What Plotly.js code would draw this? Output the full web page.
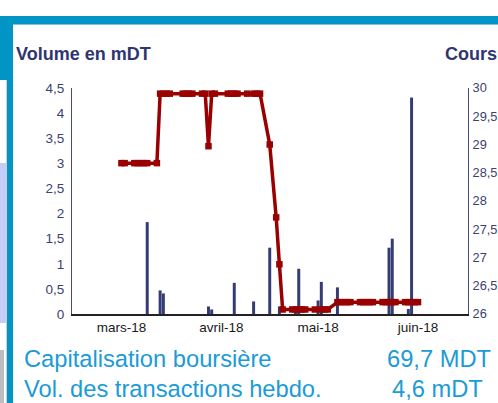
<!DOCTYPE html>
<html>
<head>
<meta charset="utf-8">
<script src="https://cdn.plot.ly/plotly-3.0.1.min.js"></script>
<style>
  html, body { margin:0; padding:0; background:#fff; }
  body { width:498px; height:403px; overflow:hidden; position:relative; }
  .deco { position:absolute; }
  #chart { position:absolute; left:0; top:0; width:498px; height:403px; }
</style>
</head>
<body>
<div class="deco" style="left:0;top:16px;width:498px;height:8px;background:#0095c5"></div>
<div class="deco" style="left:13px;top:24px;width:485px;height:1px;background:#7cc6e4"></div>
<div class="deco" style="left:0;top:16px;width:7px;height:64px;background:#0095c5"></div>
<div class="deco" style="left:6px;top:80px;width:1px;height:323px;background:#cfcfcf"></div>
<div class="deco" style="left:0;top:163px;width:6px;height:160px;background:#c6cdf8"></div>
<div class="deco" style="left:0;top:350px;width:4px;height:53px;background:#bdbdbd"></div>
<div class="deco" style="left:7px;top:16px;width:6px;height:387px;background:#0095c5"></div>
<div id="chart"></div>
<script>
// ---- Data ----
const priceDates = [
  '2018-03-01','2018-03-02','2018-03-05','2018-03-06','2018-03-07','2018-03-08','2018-03-09','2018-03-12',
  '2018-03-13','2018-03-14','2018-03-15','2018-03-16','2018-03-20','2018-03-21','2018-03-22','2018-03-23',
  '2018-03-26','2018-03-27','2018-03-28','2018-03-29','2018-03-30',
  '2018-04-03','2018-04-04','2018-04-05','2018-04-06','2018-04-09','2018-04-11','2018-04-12','2018-04-13',
  '2018-04-16','2018-04-18','2018-04-19',
  '2018-04-20','2018-04-23','2018-04-24','2018-04-25','2018-04-26','2018-04-27','2018-04-30',
  '2018-05-02','2018-05-03','2018-05-04',
  '2018-05-07','2018-05-08','2018-05-09','2018-05-10','2018-05-11','2018-05-14','2018-05-15','2018-05-16',
  '2018-05-17','2018-05-18','2018-05-21','2018-05-22','2018-05-23','2018-05-24','2018-05-25','2018-05-28',
  '2018-05-29','2018-05-30','2018-05-31','2018-06-01'
];
const priceValues = [
  28.67,28.67,28.67,28.67,28.67,28.67,28.67,28.67,
  29.90,29.90,29.90,29.90,29.90,29.90,29.90,29.90,
  29.90,29.90,28.97,29.90,29.90,
  29.90,29.90,29.90,29.90,29.90,29.90,29.90,29.90,
  29.00,27.71,26.88,
  26.08,26.08,26.08,26.08,26.08,26.08,26.08,
  26.08,26.08,26.08,
  26.21,26.21,26.21,26.21,26.21,26.21,26.21,26.21,
  26.21,26.21,26.21,26.21,26.21,26.21,26.21,26.21,
  26.21,26.21,26.21,26.21
];
const volumeDates = [
  '2018-03-09','2018-03-13','2018-03-14','2018-03-28','2018-03-29','2018-04-05','2018-04-11',
  '2018-04-16','2018-04-19','2018-04-24','2018-04-25','2018-05-01','2018-05-02','2018-05-07',
  '2018-05-23','2018-05-24','2018-05-29','2018-05-30'
];
const volumeValues = [
  1.83,0.47,0.41,0.15,0.09,0.62,0.25,
  1.32,0.15,0.08,0.90,0.27,0.64,0.53,
  1.32,1.50,0.10,4.31
];
const monthTickVals = ['2018-03-01','2018-04-01','2018-05-01','2018-06-01'];
const monthTickText = ['mars-18','avril-18','mai-18','juin-18'];
const infoLabels = ['Capitalisation boursière','Vol. des transactions hebdo.'];
const infoValues = ['69,7 MDT','4,6 mDT'];

// ---- Layout helpers (pixel -> paper) ----
const L = 72, R = 468, T = 87.5, B = 314.5;
const xp = px => (px - L) / (R - L);
const yp = py => (B - py) / (B - T);
const FONT = 'Liberation Sans, Arial, sans-serif';
const navy = '#2f3570';
const blueText = '#1b9bd7';

const traces = [
  {
    type: 'bar', x: volumeDates, y: volumeValues, yaxis: 'y',
    width: 80000000,
    marker: { color: '#353b73', line: { width: 0 } },
    hoverinfo: 'x+y'
  },
  {
    type: 'scatter', mode: 'lines+markers', x: priceDates, y: priceValues, yaxis: 'y2',
    line: { color: '#990000', width: 3.5 },
    marker: { symbol: 'square', size: 6.5, color: '#990000' },
    cliponaxis: false
  }
];

const layout = {
  width: 498, height: 403,
  margin: { l: L, r: 498 - R, t: T, b: 403 - B, pad: 0 },
  paper_bgcolor: 'rgba(0,0,0,0)',
  plot_bgcolor: 'rgba(0,0,0,0)',
  showlegend: false,
  separators: ', ',
  font: { family: FONT, size: 13.5, color: '#222' },
  xaxis: {
    type: 'date',
    range: ['2018-02-13 16:00', '2018-06-16 12:00'],
    tickmode: 'array', tickvals: monthTickVals, ticktext: monthTickText,
    showgrid: false, zeroline: false,
    showline: true, linecolor: '#222', linewidth: 1.5,
    ticks: '', ticklabelstandoff: 0,
    tickfont: { family: FONT, size: 13.5, color: '#1a1a1a' },
    fixedrange: true
  },
  yaxis: {
    range: [0, 4.5], tickmode: 'linear', tick0: 0, dtick: 0.5,
    showgrid: false, zeroline: false,
    showline: true, linecolor: '#474c7c', linewidth: 1,
    ticks: '', ticklabelstandoff: 4,
    tickfont: { family: FONT, size: 13.5, color: '#3d4170' },
    fixedrange: true
  },
  yaxis2: {
    range: [26, 30], tickmode: 'linear', tick0: 26, dtick: 0.5,
    overlaying: 'y', side: 'right',
    showgrid: false, zeroline: false,
    showline: true, linecolor: '#474c7c', linewidth: 1,
    ticks: '', ticklabelstandoff: 1,
    tickfont: { family: FONT, size: 12.8, color: '#3d4170' },
    fixedrange: true
  },
  annotations: [
    { text: '<b>Volume en mDT</b>', xref: 'paper', yref: 'paper', x: xp(14), y: yp(53.7),
      xanchor: 'left', yanchor: 'middle', showarrow: false, font: { family: FONT, size: 18, color: navy } },
    { text: '<b>Cours</b>', xref: 'paper', yref: 'paper', x: xp(443), y: yp(53.7),
      xanchor: 'left', yanchor: 'middle', showarrow: false, font: { family: FONT, size: 18, color: navy } },
    { text: infoLabels[0], xref: 'paper', yref: 'paper', x: xp(22), y: yp(360),
      xanchor: 'left', yanchor: 'middle', showarrow: false, font: { family: FONT, size: 23.7, color: blueText } },
    { text: infoValues[0], xref: 'paper', yref: 'paper', x: xp(493), y: yp(360),
      xanchor: 'right', yanchor: 'middle', showarrow: false, font: { family: FONT, size: 23.7, color: blueText } },
    { text: infoLabels[1], xref: 'paper', yref: 'paper', x: xp(22), y: yp(390),
      xanchor: 'left', yanchor: 'middle', showarrow: false, font: { family: FONT, size: 23.7, color: blueText } },
    { text: infoValues[1], xref: 'paper', yref: 'paper', x: xp(484.5), y: yp(390),
      xanchor: 'right', yanchor: 'middle', showarrow: false, font: { family: FONT, size: 23.7, color: blueText } }
  ]
};

Plotly.newPlot('chart', traces, layout, { displayModeBar: false, staticPlot: true });
</script>
</body>
</html>
